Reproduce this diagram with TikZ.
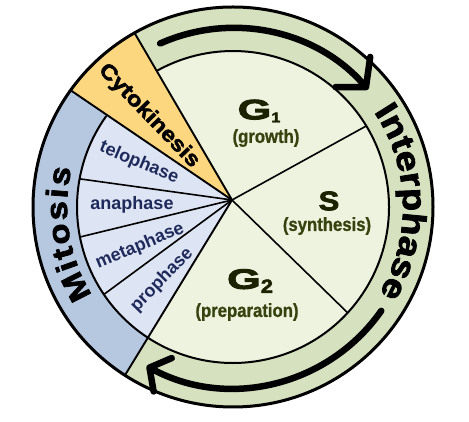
\documentclass[tikz,border=0pt]{standalone}
\usepackage{fontspec}
\setmainfont{Liberation Sans}
\newfontfamily\heavy{Liberation Sans}[FakeBold=2.5, FakeStretch=1.15]
\newfontfamily\gfont{Liberation Sans}[FakeBold=3.5, FakeStretch=1.55]
\newfontfamily\narrow{Liberation Sans}[FakeStretch=0.88, FakeBold=1]
\usetikzlibrary{arrows.meta,decorations.text,calc}
\definecolor{ringgreen}{HTML}{D6E1BF}
\definecolor{pale}{HTML}{EEF3E0}
\definecolor{cyto}{HTML}{FDD77F}
\definecolor{mitring}{HTML}{B6C8E0}
\definecolor{phasecol}{HTML}{DDE4F3}
\definecolor{navy}{HTML}{1F2A5C}
\definecolor{olive}{HTML}{37430F}
\definecolor{gdark}{HTML}{1C2200}
\tikzset{
  phaselbl/.style={text=navy, font=\bfseries\fontsize{18}{18}\selectfont, inner sep=0pt},
  paren/.style={text=olive, font=\narrow\bfseries\fontsize{19}{19}\selectfont, inner sep=0pt},
  glbl/.style={text=gdark, inner sep=0pt},
  radial/.style={line width=1.6pt},
  bigarrow/.style={line width=6.5pt, line cap=round}
}
\begin{document}
\begin{tikzpicture}[x=1pt,y=1pt]
\useasboundingbox (0,0) rectangle (469,422);
\coordinate (C) at (233,215);
\coordinate (J) at (232,222);
% fills
\fill[ringgreen] (C) circle[radius=201];
\fill[cyto] (J) -- ($(C)+(119.5:201)$) arc[start angle=119.5,end angle=144.3,radius=201] -- cycle;
\fill[mitring] (J) -- ($(C)+(144.3:201)$) arc[start angle=144.3,end angle=237.3,radius=201] -- cycle;
\fill[pale] (J) -- ($(C)+(-122.7:156)$) arc[start angle=-122.7,end angle=119.5,radius=156] -- cycle;
\fill[phasecol] (J) -- ($(C)+(144.3:156)$) arc[start angle=144.3,end angle=237.3,radius=156] -- cycle;
% boundaries
\draw[line width=3pt] (C) circle[radius=200];
\draw[line width=2pt] ($(C)+(-122.7:156)$) arc[start angle=-122.7,end angle=119.5,radius=156];
\draw[line width=2pt] ($(C)+(144.3:156)$) arc[start angle=144.3,end angle=237.3,radius=156];
\foreach \a/\n in {119.5/o1,144.3/o2,237.3/o3} {
  \coordinate (\n) at ($(C)+(\a:201)$);
  \draw[line width=1.9pt] (J) -- (\n);
}
\foreach \a/\n in {169.6/i1,191.1/i2,214.1/i3,31.3/i4,-42.7/i5} {
  \coordinate (\n) at ($(C)+(\a:156)$);
  \draw[radial] (J) -- (\n);
}
% arrows
\coordinate (a1s) at ($(C)+(114:179)$);
\coordinate (a2s) at ($(C)+(-35:181)$);
\draw[bigarrow, -{Straight Barb[length=20pt,width=46pt,round]}] (a1s) arc[start angle=114,end angle=41,radius=179];
\draw[bigarrow, -{Straight Barb[length=15pt,width=38pt,round]}] (a2s) arc[start angle=-35,end angle=-118.5,radius=181];
% ring texts
\path[decorate, decoration={text along path, text align={fit to path},
  text={|\heavy\bfseries\fontsize{30}{30}\selectfont|Mitosis}}]
  ($(C)+(212:166)$) arc[start angle=212,end angle=166.5,radius=166];
\path[decorate, decoration={text along path, text align={fit to path},
  text={|\heavy\bfseries\fontsize{33}{33}\selectfont|Interphase}}]
  ($(C)+(34:170)$) arc[start angle=34,end angle=-28.5,radius=170];
% sector labels
\node[inner sep=0pt, font=\heavy\bfseries\fontsize{21}{21}\selectfont, rotate=-46] (cyt) at (149,306) {Cytokinesis};
\node[phaselbl, rotate=-23] (telo) at (139,259) {telophase};
\node[phaselbl] (ana) at (132,217) {anaphase};
\node[phaselbl, rotate=22.5] (meta) at (140,176) {metaphase};
\node[phaselbl, rotate=45.7] (pro) at (162,142) {prophase};
\node[glbl] (g1) at (259,311) {{\gfont\bfseries\fontsize{28}{28}\selectfont G}\raisebox{-3pt}{\heavy\bfseries\fontsize{14}{14}\selectfont 1}};
\node[paren] (g1t) at (266,284) {(growth)};
\node[glbl] (s) at (329,221) {\heavy\bfseries\fontsize{27}{27}\selectfont S};
\node[paren] (st) at (327,196) {(synthesis)};
\node[glbl] (g2) at (250,141) {{\gfont\bfseries\fontsize{28}{28}\selectfont G}\raisebox{-4pt}{\heavy\bfseries\fontsize{19}{19}\selectfont 2}};
\node[paren] (g2t) at (247,110) {(preparation)};
\end{tikzpicture}
\end{document}
